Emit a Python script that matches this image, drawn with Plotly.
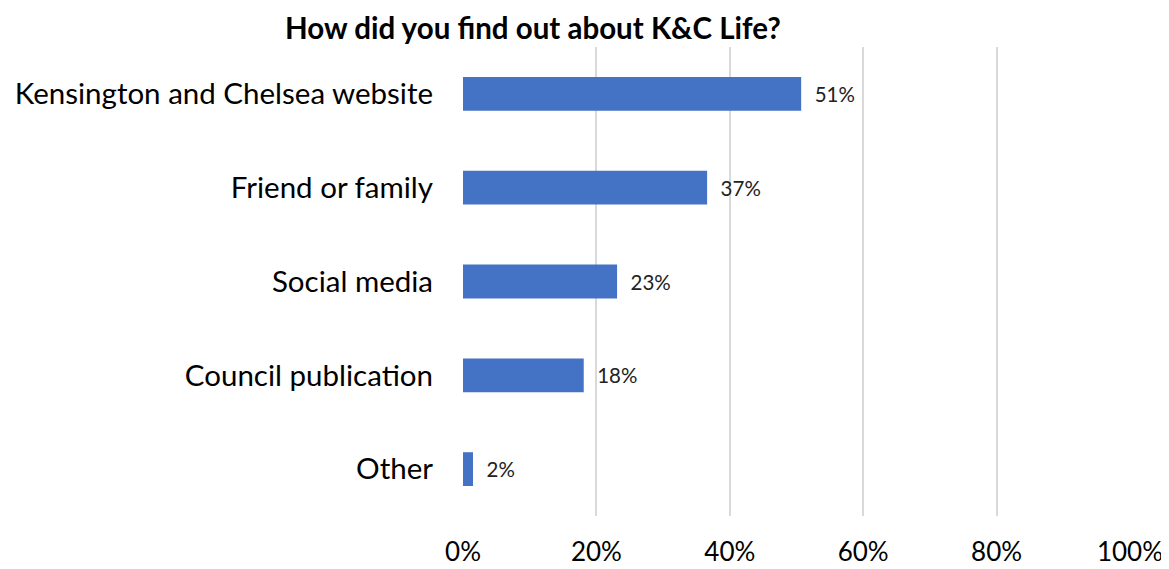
import plotly.graph_objects as go

categories = ["Kensington and Chelsea website", "Friend or family", "Social media",
              "Council publication", "Other"]
values = [50.7, 36.6, 23.1, 18.1, 1.5]
value_labels = ["51%", "37%", "23%", "18%", "2%"]
x_ticks = [0, 20, 40, 60, 80, 100]
x_tick_labels = ["0%", "20%", "40%", "60%", "80%", "100%"]

FONT = "Lato, Carlito, Calibri, sans-serif"

# page has an 8px body margin; positions below are in figure pixels
OFF = 8
W, H = 1169 - OFF, 569 - OFF
L, R, T, B = 463 - OFF, 39, 47 - OFF, 53

fig = go.Figure(go.Bar(
    y=categories,
    x=values,
    orientation="h",
    marker=dict(color="#4472C4", line=dict(width=0)),
    text=["  " + t for t in value_labels],
    textposition="outside",
    textfont=dict(size=20.5, color="#222222", family=FONT),
    cliponaxis=False,
    width=0.36,
))

fig.update_layout(
    width=W, height=H,
    margin=dict(l=L, r=R, t=T, b=B, autoexpand=False),
    paper_bgcolor="white", plot_bgcolor="white",
    showlegend=False,
    font=dict(family=FONT, color="#000000"),
    annotations=[dict(
        text="<b>How did you find out about K&C Life?</b>",
        x=(533 - 463) / (W - L - R), xref="paper",
        y=1 + (47 - 27) / (H - T - B), yref="paper",
        showarrow=False, font=dict(size=29.5, color="#000000", family=FONT),
        xanchor="center", yanchor="middle",
    )],
)

fig.update_xaxes(
    range=[0, 100], automargin=False,
    tickvals=x_ticks, ticktext=x_tick_labels,
    showgrid=True, gridcolor="#D9D9D9", gridwidth=2,
    zeroline=False, showline=False,
    tickfont=dict(size=26, color="#000000", family=FONT),
    ticklabelstandoff=18,
)
fig.update_yaxes(
    categoryorder="array", categoryarray=categories[::-1],
    autorange=False, range=[-0.5, 4.5], automargin=False,
    showgrid=False, zeroline=False, showline=False,
    tickfont=dict(size=29.5, color="#000000", family=FONT),
    ticklabelstandoff=29,
)

fig.write_html("out.html")
